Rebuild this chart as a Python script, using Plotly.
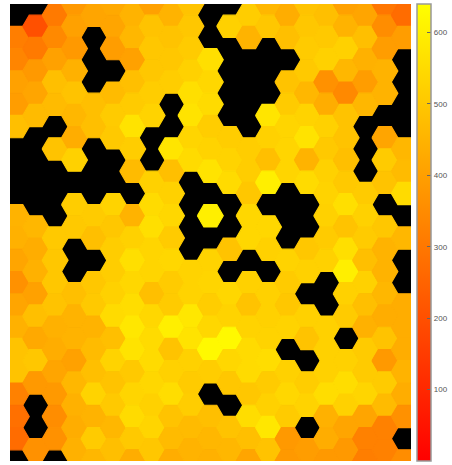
import plotly.graph_objects as go

# Hexagon bin values, one list per column, top to bottom. None = empty bin (black).
_ = None
col00 = [_, 315, 335, 405, 395, 480, _, _, _, 450, 445, 415, 365, 415, 445, 490, 490, 325, 280, 270, _]
col01 = [_, 200, 305, 385, 415, 470, _, _, _, _, 460, 435, 445, 405, 480, 425, 500, 385, _, _, 365]
col02 = [305, 345, 405, 480, 470, _, 490, _, _, _, 505, 500, 500, 490, 445, 435, 415, 385, 355, 365, _]
col03 = [385, 405, 385, 445, 490, 460, 435, 525, _, 515, 505, _, _, 480, 450, 450, 405, 460, 445, 435, 445]
col04 = [415, _, _, _, 480, 480, _, _, _, 510, 480, _, 500, 505, 450, 470, 480, 530, 450, 510, 460]
col05 = [425, 415, 395, _, 470, 510, 505, _, _, 530, 500, 515, 515, 525, 550, 480, 530, 490, 505, 460, 480]
col06 = [450, 460, 405, 480, 510, 570, 515, 470, _, 450, 525, 560, 540, 555, 580, 570, 505, 535, 550, 505, 435]
col07 = [405, 490, 500, 500, 515, 530, _, _, 525, 550, 560, 535, 535, 480, 540, 550, 550, 540, 525, 535, 500]
col08 = [450, 490, 500, 515, _, _, 575, 480, 525, 540, 510, 540, 510, 510, 600, 490, 525, 555, 490, 470, 435]
col09 = [490, 500, 510, 525, 560, 570, 535, 550, _, _, _, _, 530, 530, 580, 570, 525, 510, 515, 470, 450]
col10 = [_, _, 560, 540, 550, 515, 530, 570, _, 600, _, 530, 535, 515, 540, 625, 515, _, 480, 460, 445]
col11 = [_, 525, _, _, _, _, 515, 530, 550, _, _, 490, _, 540, 530, 625, 540, 500, _, 490, 460]
col12 = [515, 450, _, _, _, _, 515, 515, 500, 540, 540, _, 525, 490, 530, 550, 550, 500, 555, 480, 415]
col13 = [460, 500, _, _, _, 575, 525, 480, 600, _, 540, 525, _, 525, 525, 530, 555, 510, 525, 580, 490]
col14 = [435, 480, _, 490, 510, 535, 535, 535, _, _, _, 530, 510, 500, 530, _, 525, 540, 510, 385, 385]
col15 = [490, 500, 510, 505, 460, 530, 570, 450, 550, _, _, 500, 525, _, 525, 490, _, 515, 530, _, 395]
col16 = [480, 505, 525, 365, 435, 525, 505, 525, 530, 525, 510, 525, _, _, 525, 525, 525, 555, 445, 435, 385]
col17 = [405, 450, 525, 460, 345, 490, 490, 480, 505, 560, 490, 560, 600, 525, 510, _, 525, 555, 525, 415, 385]
col18 = [415, 480, 445, 395, 460, _, _, _, 510, 525, 510, 480, 525, 480, 445, 510, 510, 535, 415, 325, 315]
col19 = [295, 355, 395, 450, 450, _, 415, 510, 490, _, 500, 450, 450, 460, 435, 490, 385, 510, 470, 325, 325]
col20 = [270, 395, _, _, _, _, 460, 470, 550, _, 460, _, _, 435, 435, 435, 450, 435, 365, _, 355]
columns = [col00, col01, col02, col03, col04, col05, col06, col07, col08, col09, col10,
           col11, col12, col13, col14, col15, col16, col17, col18, col19, col20]

colorbar_ticks = [0, 100, 200, 300, 400, 500, 600]
value_max = 640


def heat(v):
    return f"rgb(255,{round(255 * v / value_max)},0)"


fig = go.Figure()

# Bin centres: odd columns sit half a bin higher than even columns.
xs, ys, vs = [], [], []
for c, col in enumerate(columns):
    for k, v in enumerate(col):
        if v is None:
            continue
        xs.append(c)
        ys.append(2 * k - (c % 2))
        vs.append(v)

# Carries the colour bar; the polygons are drawn over it.
fig.add_trace(go.Scatter(
    x=xs, y=ys, mode="markers", hoverinfo="skip", showlegend=False,
    marker=dict(
        size=1, color=vs, cmin=0, cmax=value_max,
        colorscale=[[0, "rgb(255,0,0)"], [1, "rgb(255,255,0)"]],
        showscale=True,
        colorbar=dict(
            x=1.015, xanchor="left", xpad=0, y=0.5, yanchor="middle", ypad=0,
            len=1, lenmode="fraction", thickness=14, thicknessmode="pixels",
            outlinecolor="#999999", outlinewidth=1.5,
            tickmode="array", tickvals=colorbar_ticks, ticktext=[str(t) for t in colorbar_ticks],
            ticks="inside", ticklen=4, tickcolor="#666666", tickwidth=1,
            tickfont=dict(family="Liberation Sans", size=8, color="#555555"),
        ),
    ),
))

A = 2 / 3  # hexagon half-width in column units
for x, y, v in zip(xs, ys, vs):
    fig.add_trace(go.Scatter(
        x=[x - A, x - A / 2, x + A / 2, x + A, x + A / 2, x - A / 2, x - A],
        y=[y, y - 1, y - 1, y, y + 1, y + 1, y],
        mode="lines", fill="toself", fillcolor=heat(v),
        line=dict(color=heat(v), width=1.2),
        showlegend=False, hovertemplate=f"{v}<extra></extra>",
    ))

fig.update_layout(
    width=452, height=465, autosize=False,
    margin=dict(l=10, r=41, t=4, b=4, autoexpand=False),
    paper_bgcolor="white", plot_bgcolor="black",
    xaxis=dict(range=[-0.325, 20.345], visible=False, fixedrange=True),
    yaxis=dict(range=[40, -1], visible=False, fixedrange=True),
)

fig.write_html(
    "out.html",
    config={"displayModeBar": False},
    post_script="document.body.style.margin='0';document.body.style.overflow='hidden';",
)
